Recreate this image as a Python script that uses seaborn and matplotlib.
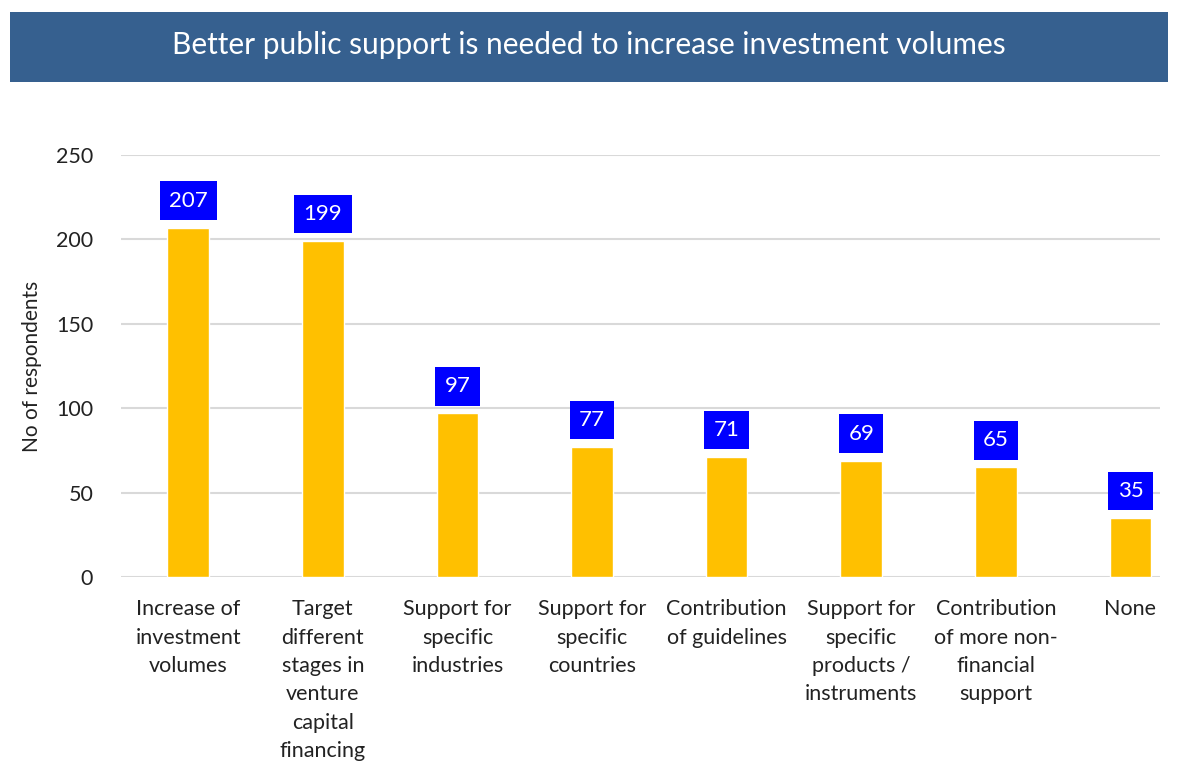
import pandas as pd
import matplotlib
matplotlib.use("Agg")
import matplotlib.pyplot as plt
import seaborn as sns
from matplotlib.patches import Rectangle

# survey answers: what public support is needed
categories = [
    "Increase of\ninvestment\nvolumes",
    "Target\ndifferent\nstages in\nventure\ncapital\nfinancing",
    "Support for\nspecific\nindustries",
    "Support for\nspecific\ncountries",
    "Contribution\nof guidelines",
    "Support for\nspecific\nproducts /\ninstruments",
    "Contribution\nof more non-\nfinancial\nsupport",
    "None",
]
respondents = [207, 199, 97, 77, 71, 69, 65, 35]
y_ticks = [0, 50, 100, 150, 200, 250]

sns.set_style("white")
plt.rcParams['font.family'] = ['Lato', 'DejaVu Sans']

data = pd.DataFrame({'category': categories, 'respondents': respondents})

fig = plt.figure(figsize=(11.87, 7.62), dpi=100)

# title banner
fig.patches.append(Rectangle((10 / 1187, 1 - 82 / 762), 1158 / 1187, 70 / 762,
                             transform=fig.transFigure, facecolor='#36608F',
                             edgecolor='none', zorder=0))
fig.text(589 / 1187, 1 - 45 / 762, "Better public support is needed to increase investment volumes",
         ha='center', va='center', color='white', fontsize=21.5)

ax = fig.add_axes([121 / 1187, 1 - 577 / 762, 1039 / 1187, 422 / 762])
sns.barplot(data=data, x='category', y='respondents', color='#FFC000',
            saturation=1, width=0.31, ax=ax, zorder=3)

ax.set_ylim(0, 250)
ax.set_yticks(y_ticks)
ax.set_xlim(-0.5, 7.22)
ax.grid(axis='y', color='#d9d9d9', linewidth=1.5, zorder=0)
ax.set_axisbelow(True)
for s in ['top', 'right', 'left', 'bottom']:
    ax.spines[s].set_visible(False)
ax.tick_params(axis='both', length=0, labelsize=15.5, colors='#222222')
ax.tick_params(axis='x', pad=16)
ax.tick_params(axis='y', pad=20)
for lbl in ax.get_xticklabels():
    lbl.set_linespacing(1.52)
ax.set_xlabel("")
ax.set_ylabel("No of respondents", fontsize=15, color='#222222', labelpad=10)

# value labels in blue boxes
for i, v in enumerate(respondents):
    ax.text(i, v + 16, str(v), ha='center', va='center', color='white', fontsize=16,
            bbox=dict(boxstyle='square,pad=0.42', facecolor='#0000FF', edgecolor='none'),
            zorder=5)

fig.savefig("out.png", dpi=100)
